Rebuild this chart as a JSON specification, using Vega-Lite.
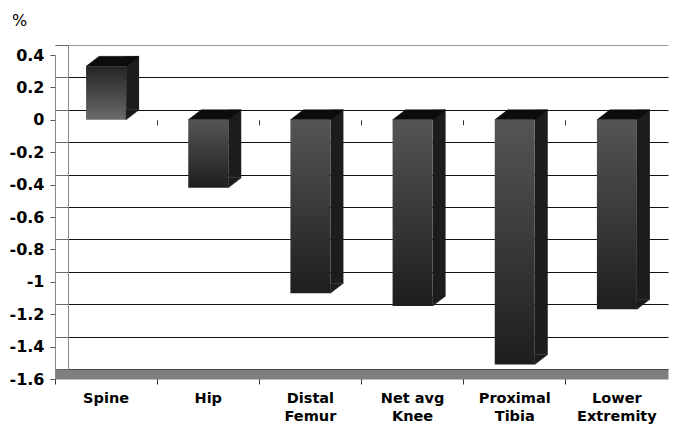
{
  "$schema": "https://vega.github.io/schema/vega-lite/v6.json",
  "width": 610,
  "height": 324,
  "autosize": {"type": "none"},
  "padding": {"left": 68, "top": 55, "right": 0, "bottom": 46},
  "background": "white",
  "config": {"view": {"stroke": null}, "font": "DejaVu Sans"},
  "data": {
    "values": [
      {"cat": "Spine", "value": 0.33},
      {"cat": "Hip", "value": -0.42},
      {"cat": "Distal Femur", "value": -1.07},
      {"cat": "Net avg Knee", "value": -1.15},
      {"cat": "Proximal Tibia", "value": -1.51},
      {"cat": "Lower Extremity", "value": -1.17}
    ]
  },
  "layer": [
    {
      "name": "back",
      "layer": [
        {
          "mark": {"type": "bar", "width": 13, "xOffset": 26.5, "color": "#1c1c1c"},
          "encoding": {
            "x": {
              "field": "cat", "type": "nominal", "sort": null,
              "scale": {"range": [-13, 600], "paddingInner": 0, "paddingOuter": 0},
              "axis": {"orient": "bottom", "offset": -259.2, "domain": false, "labels": false, "ticks": true, "tickSize": 5, "tickColor": "#333", "bandPosition": 0, "title": null, "grid": false}
            },
            "y": {
              "field": "value", "type": "quantitative",
              "scale": {"domain": [-1.6, 0.4], "nice": false, "zero": false, "range": [314, -10]},
              "axis": {
                "orient": "left", "offset": 0,
                "values": [0.4, 0.2, 0, -0.2, -0.4, -0.6, -0.8, -1, -1.2, -1.4, -1.6],
                "tickCount": 30,
                "grid": true,
                "gridColor": {"condition": {"test": "datum.value === 0.4", "value": "#999999"}, "value": "#111111"},
                "gridWidth": 1,
                "labels": false,
                "ticks": true, "tickSize": 13, "tickColor": "#666666",
                "domain": true, "domainColor": "#888888",
                "title": null,
                "encode": {"ticks": {"update": {"y2": {"scale": "back_y", "field": "value", "offset": 10}}}}
              }
            }
          }
        },
        {
          "transform": [{"filter": "datum.value > 0"}],
          "mark": {"type": "point", "shape": "M-1,0.1887L0.5094,0.1887L1,-0.1887L-0.5094,-0.1887Z", "size": 2809, "filled": true, "opacity": 1, "color": "#0c0c0c", "stroke": "#0c0c0c", "strokeWidth": 0.5, "xOffset": 6.5, "yOffset": 5},
          "encoding": {
            "x": {"field": "cat", "type": "nominal", "sort": null},
            "y": {"field": "value", "type": "quantitative"}
          }
        },
        {
          "transform": [{"filter": "datum.value <= 0"}],
          "mark": {"type": "point", "shape": "M-1,0.1887L0.5094,0.1887L1,-0.1887L-0.5094,-0.1887Z", "size": 2809, "filled": true, "opacity": 1, "color": "#0c0c0c", "stroke": "#0c0c0c", "strokeWidth": 0.5, "xOffset": 6.5, "yOffset": 5},
          "encoding": {
            "x": {"field": "cat", "type": "nominal", "sort": null},
            "y": {"datum": 0, "type": "quantitative"}
          }
        }
      ]
    },
    {
      "name": "front",
      "layer": [
        {
          "transform": [{"filter": "datum.value <= 0"}],
          "mark": {
            "type": "bar", "width": 40,
            "color": {"gradient": "linear", "x1": 0, "y1": 0, "x2": 0, "y2": 1, "stops": [{"offset": 0, "color": "#555555"}, {"offset": 1, "color": "#1e1e1e"}]}
          },
          "encoding": {
            "x": {
              "field": "cat", "type": "nominal", "sort": null,
              "scale": {"range": [-13, 600], "paddingInner": 0, "paddingOuter": 0},
              "axis": {
                "orient": "bottom", "offset": -5,
                "domain": true, "domainColor": "#7f7f7f", "domainWidth": 10, "domainCap": "butt",
                "ticks": true, "tickSize": 10, "tickColor": "#333333", "bandPosition": 0,
                "labelPadding": 7, "labelFont": "DejaVu Sans", "labelFontWeight": "bold", "labelFontSize": 14.5, "labelColor": "#000000", "labelAngle": 0, "labelLineHeight": 18.5, "labelBaseline": "top",
                "labelExpr": "datum.value == 'Net avg Knee' ? ['Net avg', 'Knee'] : split(datum.value, ' ')",
                "title": null, "grid": false
              }
            },
            "y": {
              "field": "value", "type": "quantitative",
              "scale": {"domain": [-1.6, 0.4], "nice": false, "zero": false},
              "axis": {
                "orient": "left", "offset": 13,
                "values": [0.4, 0.2, 0, -0.2, -0.4, -0.6, -0.8, -1, -1.2, -1.4, -1.6],
                "tickCount": 30,
                "grid": false,
                "domain": true, "domainColor": "#888888",
                "ticks": true, "tickSize": 5, "tickColor": "#555555",
                "labelFont": "DejaVu Sans", "labelFontWeight": "bold", "labelFontSize": 16, "labelColor": "#000000", "labelPadding": 6, "labelFlush": false, "labelOverlap": false,
                "labelExpr": "datum.value + ''",
                "title": "%", "titleAngle": 0, "titleX": -36, "titleY": -35, "titleAlign": "center", "titleBaseline": "middle",
                "titleFont": "DejaVu Sans", "titleFontWeight": "normal", "titleFontSize": 16, "titleColor": "#000000"
              }
            }
          }
        },
        {
          "transform": [{"filter": "datum.value > 0"}],
          "mark": {
            "type": "bar", "width": 40,
            "color": {"gradient": "linear", "x1": 0, "y1": 0, "x2": 0, "y2": 1, "stops": [{"offset": 0, "color": "#242424"}, {"offset": 1, "color": "#6a6a6a"}]}
          },
          "encoding": {
            "x": {"field": "cat", "type": "nominal", "sort": null},
            "y": {"field": "value", "type": "quantitative"}
          }
        },
        {
          "transform": [{"filter": "datum.value <= 0"}],
          "mark": {"type": "point", "shape": "M-1,-0.769L-1,0.769L1,-0.769Z", "size": 169, "filled": true, "opacity": 1, "color": "#1c1c1c", "stroke": "#1c1c1c", "strokeWidth": 0.5, "xOffset": 26.5, "yOffset": -5},
          "encoding": {
            "x": {"field": "cat", "type": "nominal", "sort": null},
            "y": {"field": "value", "type": "quantitative"}
          }
        },
        {
          "transform": [{"filter": "datum.value > 0"}],
          "mark": {"type": "point", "shape": "M-1,-0.769L-1,0.769L1,-0.769Z", "size": 169, "filled": true, "opacity": 1, "color": "#1c1c1c", "stroke": "#1c1c1c", "strokeWidth": 0.5, "xOffset": 26.5, "yOffset": -5},
          "encoding": {
            "x": {"field": "cat", "type": "nominal", "sort": null},
            "y": {"datum": 0, "type": "quantitative"}
          }
        }
      ]
    }
  ],
  "resolve": {"scale": {"y": "independent"}, "axis": {"x": "independent", "y": "independent"}}
}
